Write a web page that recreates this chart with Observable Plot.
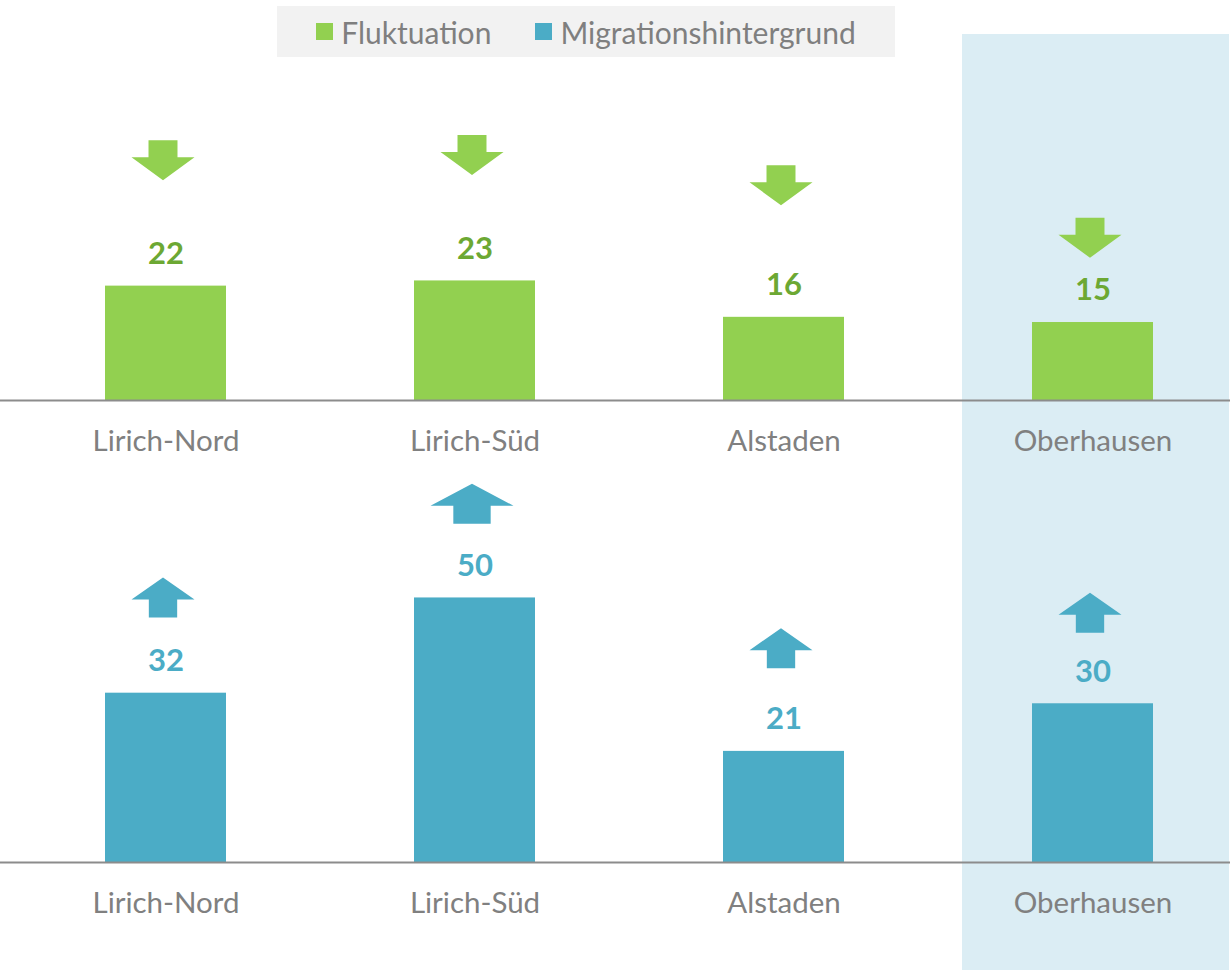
<!DOCTYPE html>
<html>
<head>
<meta charset="utf-8">
<script src="https://cdn.jsdelivr.net/npm/d3@7"></script>
<script src="https://cdn.jsdelivr.net/npm/@observablehq/plot@0.6"></script>
<style>
  html, body { margin: 0; padding: 0; background: #ffffff; overflow: hidden; }
  #wrap { position: relative; width: 1230px; height: 970px; font-family: Lato, "Open Sans", sans-serif; }
  #wrap svg { display: block; }
  #legend {
    position: absolute; left: 277px; top: 6px; width: 618px; height: 51px;
    background: #f2f2f2; display: flex; align-items: center; justify-content: center;
    gap: 44px; z-index: 2; color: #7f7f7f; font-size: 30px;
  }
  .item { display: flex; align-items: center; gap: 8px; }
  .sw { width: 17px; height: 17px; display: inline-block; }
</style>
</head>
<body>
<div id="wrap">
  <div id="legend"></div>
  <div id="top"></div>
  <div id="bottom"></div>
</div>
<script>
// ---- data ----
const regions = ["Lirich-Nord", "Lirich-Süd", "Alstaden", "Oberhausen"];
const seriesNames = ["Fluktuation", "Migrationshintergrund"];
const fluktuation = [22, 23, 16, 15];
const migrationshintergrund = [32, 50, 21, 30];
// level (in value units) at which the trend arrow sits above each bar
const fluktuationArrow = [46.2, 47.2, 41.4, 31.3];
const migrationshintergrundArrow = [50.1, 67.8, 40.5, 47.2];
const highlighted = ["Oberhausen"];

// ---- styles ----
const green = "#92d050", greenText = "#6ca833", blue = "#4bacc6";
const gray = "#808080";

// legend
const legend = document.getElementById("legend");
[[seriesNames[0], green], [seriesNames[1], blue]].forEach(([name, c]) => {
  const it = document.createElement("div");
  it.className = "item";
  it.innerHTML = `<span class="sw" style="background:${c}"></span><span>${name}</span>`;
  legend.appendChild(it);
});

// block arrows as custom dot symbols (width from r)
const arrowDown = {
  draw(ctx, size) {
    const r = Math.sqrt(size / Math.PI), s = r * 0.46;
    ctx.moveTo(-s, -20); ctx.lineTo(s, -20); ctx.lineTo(s, -3); ctx.lineTo(r, -3);
    ctx.lineTo(0, 20); ctx.lineTo(-r, -3); ctx.lineTo(-s, -3); ctx.closePath();
  }
};
const arrowUp = {
  draw(ctx, size) {
    const r = Math.sqrt(size / Math.PI), s = r * 0.45;
    ctx.moveTo(0, -20); ctx.lineTo(r, 2); ctx.lineTo(s, 2); ctx.lineTo(s, 20);
    ctx.lineTo(-s, 20); ctx.lineTo(-s, 2); ctx.lineTo(-r, 2); ctx.closePath();
  }
};

function panel({values, arrows, barColor, textColor, symbol, height, marginTop, yDomain, yRange, wideArrow}) {
  const data = regions.map((region, i) => ({region, value: values[i], arrow: arrows[i]}));
  return Plot.plot({
    width: 1230,
    height,
    marginTop, marginBottom: 0, marginLeft: 0, marginRight: 0,
    style: {fontFamily: "Lato, 'Open Sans', sans-serif", background: "transparent", overflow: "visible"},
    x: {type: "band", domain: regions, range: [10, 1248], padding: 0, axis: null},
    y: {domain: yDomain, range: yRange, axis: null},
    r: {type: "identity"},
    marks: [
      Plot.cell(highlighted, {x: d => d, fill: "#dbedf4", insetLeft: 24, insetRight: 18}),
      Plot.barY(data, {x: "region", y: "value", fill: barColor, insetLeft: 94, insetRight: 94}),
      Plot.ruleY([0], {stroke: "#8c8c8c", strokeWidth: 2}),
      Plot.text(data, {x: "region", y: "value", text: d => String(d.value), dy: -32,
        fontSize: 31, fontWeight: "bold", fill: textColor}),
      Plot.dot(data, {x: "region", y: "arrow", symbol, dx: -3,
        r: d => (wideArrow && d.region === wideArrow ? 41.5 : 31.5),
        fill: barColor, stroke: "none"}),
      Plot.text(regions, {x: d => d, y: () => 0, dy: 41, fontSize: 29.5, fill: gray})
    ]
  });
}

document.getElementById("top").appendChild(panel({
  values: fluktuation, arrows: fluktuationArrow, barColor: green, textColor: greenText,
  symbol: arrowDown, height: 462, marginTop: 34, yDomain: [0, 70.4], yRange: [400, 34]
}));
document.getElementById("bottom").appendChild(panel({
  values: migrationshintergrund, arrows: migrationshintergrundArrow, barColor: blue, textColor: blue,
  symbol: arrowUp, height: 508, marginTop: 0, yDomain: [0, 75.6], yRange: [400, 0],
  wideArrow: "Lirich-Süd"
}));
</script>
</body>
</html>
